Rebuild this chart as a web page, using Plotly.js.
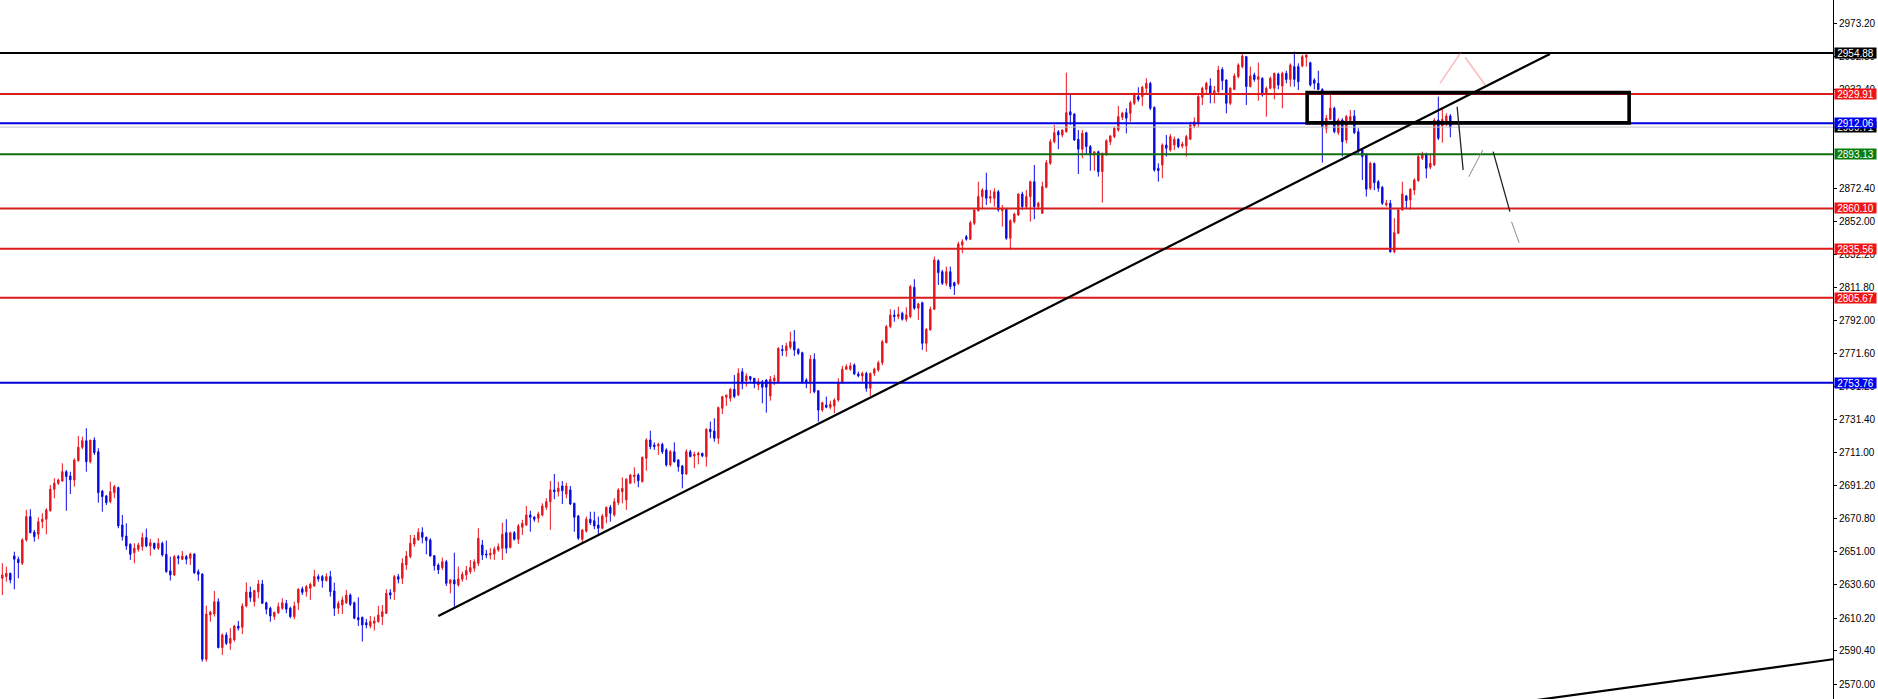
<!DOCTYPE html>
<html>
<head>
<meta charset="utf-8">
<script src="https://cdn.plot.ly/plotly-3.0.1.min.js"></script>
<style>html,body{margin:0;padding:0;background:#fff;}#chart{width:1878px;height:699px;}</style>
</head>
<body>
<div id="chart"></div>
<script>
// ---- candle data (one entry per bar, left to right) ----
const openP = [2634.5,2635.5,2637.5,2648.1,2646.1,2643.6,2657.9,2672.1,2662.7,2661.3,2669.0,2670.5,2675.7,2688.8,2692.4,2693.8,2699.5,2696.9,2694.5,2706.2,2714.4,2718.4,2705.6,2718.8,2711.7,2687.7,2684.7,2681.2,2686.7,2689.8,2667.0,2660.3,2655.2,2650.1,2652.2,2653.8,2659.3,2654.2,2655.8,2652.8,2655.8,2649.1,2639.0,2636.5,2647.7,2646.1,2647.7,2646.7,2649.3,2638.5,2637.1,2585.1,2612.1,2612.7,2620.2,2592.2,2599.9,2594.8,2596.9,2605.4,2604.6,2617.6,2626.1,2620.2,2626.3,2631.0,2619.6,2616.2,2611.1,2613.5,2616.2,2619.2,2616.2,2611.1,2619.6,2628.0,2626.3,2628.4,2629.8,2635.5,2635.5,2633.1,2635.5,2626.8,2616.2,2618.2,2619.6,2624.3,2619.6,2610.5,2610.7,2607.4,2605.4,2607.0,2608.0,2611.1,2613.1,2625.7,2626.3,2635.5,2634.5,2642.6,2647.7,2655.4,2657.9,2662.5,2659.5,2657.9,2648.3,2642.6,2641.0,2644.6,2631.4,2633.5,2630.4,2633.9,2636.5,2638.5,2640.6,2643.6,2654.8,2649.3,2648.7,2649.3,2651.8,2652.8,2662.3,2653.2,2662.3,2658.3,2665.6,2667.0,2673.1,2671.7,2671.1,2673.1,2677.8,2681.2,2688.4,2687.3,2690.8,2685.9,2688.4,2680.2,2672.5,2658.3,2663.3,2670.5,2669.6,2667.0,2665.0,2672.1,2677.8,2673.1,2680.6,2687.3,2682.3,2692.4,2696.5,2697.5,2693.4,2707.7,2718.9,2715.8,2715.2,2716.2,2712.8,2703.6,2711.7,2706.7,2703.0,2698.1,2711.7,2709.1,2709.7,2710.7,2708.7,2725.4,2724.3,2719.9,2738.2,2744.9,2744.3,2749.8,2746.3,2760.5,2755.0,2757.5,2756.5,2752.4,2754.4,2755.4,2745.7,2755.0,2754.4,2774.1,2773.3,2775.4,2778.8,2774.1,2772.1,2755.4,2754.4,2768.1,2748.9,2737.1,2740.2,2738.8,2739.6,2743.2,2753.8,2762.0,2762.0,2764.6,2759.1,2757.9,2759.5,2750.4,2759.5,2761.5,2766.0,2778.2,2788.0,2795.1,2794.1,2796.1,2792.5,2794.1,2812.0,2799.2,2802.6,2777.8,2786.0,2798.6,2828.2,2821.5,2814.4,2821.5,2814.8,2814.4,2837.8,2842.9,2841.3,2851.0,2858.7,2867.3,2871.3,2866.3,2866.3,2870.3,2858.7,2859.6,2841.9,2852.0,2856.1,2868.9,2861.2,2867.3,2876.4,2861.2,2857.1,2873.0,2887.6,2900.8,2906.9,2904.9,2906.9,2919.1,2917.7,2902.3,2896.2,2906.3,2897.8,2892.7,2894.7,2882.5,2893.3,2900.8,2903.9,2907.9,2915.7,2918.5,2918.1,2924.2,2928.3,2928.3,2933.4,2936.4,2921.8,2884.6,2886.6,2898.8,2895.7,2898.8,2902.3,2898.2,2898.2,2902.3,2910.4,2912.4,2927.9,2932.7,2934.8,2929.9,2931.3,2944.9,2938.4,2924.2,2932.7,2940.5,2946.6,2952.7,2934.4,2941.5,2938.8,2939.5,2929.9,2933.4,2933.4,2942.1,2934.8,2942.5,2938.8,2946.6,2946.6,2947.0,2952.3,2949.0,2938.4,2936.4,2932.7,2909.0,2914.4,2921.2,2906.3,2914.0,2901.8,2913.6,2916.5,2906.9,2895.7,2892.7,2872.4,2887.6,2876.4,2873.0,2862.2,2863.2,2833.7,2844.9,2859.2,2867.7,2865.3,2871.3,2877.0,2890.7,2892.7,2885.2,2886.6,2914.0,2910.4,2913.0,2916.5];
const highP = [2643.6,2641.6,2637.9,2650.7,2647.7,2658.9,2676.2,2676.6,2664.0,2671.7,2674.1,2677.2,2691.4,2695.5,2695.3,2704.6,2700.5,2699.5,2707.7,2721.3,2720.9,2726.0,2718.8,2720.5,2713.8,2688.4,2685.3,2693.4,2691.4,2690.4,2673.1,2668.0,2655.8,2655.8,2656.2,2662.3,2664.8,2658.5,2656.2,2658.9,2656.8,2657.5,2647.7,2648.7,2648.7,2651.1,2648.7,2650.1,2649.7,2640.0,2637.5,2617.8,2614.6,2626.8,2622.3,2600.9,2601.5,2604.0,2606.0,2608.5,2619.2,2632.0,2629.4,2627.4,2633.5,2633.5,2620.2,2617.2,2614.1,2619.6,2622.3,2621.3,2617.2,2620.2,2628.4,2629.4,2630.4,2631.8,2639.6,2636.9,2636.5,2637.5,2639.0,2631.8,2620.7,2623.3,2627.4,2625.3,2620.2,2622.9,2611.1,2609.7,2611.5,2611.1,2617.6,2618.2,2627.8,2627.8,2636.5,2637.1,2646.7,2651.1,2660.9,2660.9,2665.0,2665.6,2659.9,2658.9,2648.7,2643.6,2647.1,2645.7,2633.9,2650.1,2641.6,2638.5,2642.0,2645.7,2646.1,2665.0,2657.9,2651.8,2652.8,2653.8,2655.8,2668.4,2670.5,2662.9,2663.3,2667.6,2670.1,2678.6,2675.7,2672.5,2675.1,2680.2,2683.3,2693.8,2698.1,2693.4,2693.8,2692.8,2690.8,2680.6,2673.1,2664.4,2672.1,2675.1,2675.1,2672.1,2673.7,2678.2,2679.2,2683.3,2689.4,2696.1,2695.5,2698.1,2702.2,2698.5,2708.7,2719.9,2724.5,2717.4,2717.2,2717.2,2713.8,2712.8,2717.4,2707.1,2703.6,2713.2,2712.8,2711.7,2711.7,2711.1,2726.0,2730.0,2732.1,2739.2,2745.7,2746.3,2750.4,2758.5,2762.6,2762.6,2759.5,2757.9,2756.5,2756.5,2755.4,2755.9,2757.9,2758.5,2775.4,2776.8,2778.2,2784.9,2785.9,2774.8,2772.7,2756.5,2770.7,2771.7,2749.3,2742.2,2745.3,2742.8,2744.3,2756.5,2764.0,2765.0,2766.0,2765.6,2760.5,2760.5,2760.5,2759.9,2763.0,2767.2,2779.9,2789.0,2798.6,2798.2,2800.2,2797.1,2799.8,2813.4,2816.9,2802.6,2803.2,2787.0,2800.2,2830.7,2829.1,2822.6,2824.6,2824.6,2815.4,2839.8,2841.3,2843.9,2852.6,2859.6,2876.4,2872.4,2881.9,2871.3,2872.4,2871.3,2862.2,2860.2,2853.5,2857.5,2869.3,2870.3,2871.3,2877.0,2886.6,2864.2,2876.4,2889.6,2902.3,2911.0,2907.9,2908.3,2942.9,2930.3,2918.1,2907.9,2907.9,2906.9,2898.8,2894.7,2895.3,2894.1,2902.3,2904.9,2910.0,2922.6,2919.1,2921.2,2925.8,2930.7,2934.0,2934.8,2939.5,2937.4,2922.2,2887.6,2899.8,2904.9,2905.5,2903.9,2902.9,2900.8,2904.9,2913.0,2915.7,2929.3,2934.4,2937.4,2939.5,2934.8,2947.0,2946.2,2938.8,2934.0,2942.5,2948.6,2954.3,2953.1,2946.6,2942.9,2949.0,2940.1,2934.4,2940.5,2942.9,2942.9,2943.5,2944.1,2948.6,2955.7,2948.6,2953.7,2954.3,2949.6,2939.5,2944.1,2933.4,2917.1,2929.3,2922.2,2915.1,2915.1,2917.1,2920.1,2920.1,2909.0,2896.8,2893.7,2888.6,2888.0,2877.4,2873.8,2865.3,2865.3,2854.1,2860.2,2876.4,2868.3,2872.4,2878.5,2893.7,2894.7,2894.1,2892.7,2915.1,2928.3,2921.2,2918.1,2917.7];
const lowP = [2624.3,2632.4,2631.4,2627.8,2634.5,2642.6,2656.8,2661.9,2656.8,2658.3,2665.0,2661.3,2675.1,2683.3,2691.4,2693.4,2675.7,2685.9,2690.4,2705.6,2713.2,2699.5,2704.6,2709.7,2680.6,2675.1,2679.2,2680.2,2683.3,2665.0,2657.5,2651.8,2645.7,2643.6,2650.7,2651.3,2653.4,2648.3,2651.8,2651.8,2647.7,2637.9,2633.1,2635.9,2643.0,2645.7,2643.0,2642.6,2637.1,2632.9,2583.6,2583.6,2608.0,2611.1,2591.8,2587.7,2593.8,2590.8,2595.9,2602.6,2600.5,2616.8,2620.2,2617.2,2622.3,2618.8,2612.5,2608.0,2609.1,2612.7,2615.2,2613.1,2610.1,2609.5,2615.2,2624.3,2623.3,2621.3,2629.4,2632.4,2628.8,2632.4,2623.3,2611.5,2612.7,2612.7,2618.8,2617.6,2609.5,2605.4,2595.9,2604.0,2604.0,2602.6,2607.4,2606.0,2612.7,2621.7,2621.3,2631.4,2631.0,2639.6,2646.7,2653.8,2657.5,2655.8,2649.1,2647.7,2639.2,2637.1,2639.6,2629.8,2625.3,2617.2,2629.4,2632.4,2633.5,2637.1,2638.5,2642.0,2645.7,2646.7,2646.1,2645.7,2650.7,2645.7,2649.7,2652.8,2657.5,2655.4,2660.9,2666.4,2662.9,2669.0,2668.4,2672.1,2676.2,2664.0,2682.7,2684.3,2679.8,2683.3,2679.2,2662.9,2657.9,2656.2,2662.3,2667.0,2664.4,2660.9,2664.4,2668.0,2669.0,2672.1,2679.2,2680.2,2676.2,2692.4,2692.4,2690.0,2693.0,2700.1,2713.2,2712.8,2709.7,2710.3,2702.6,2702.6,2705.0,2699.5,2689.4,2697.5,2708.3,2701.6,2704.0,2708.3,2702.6,2719.9,2717.8,2716.4,2734.7,2739.6,2742.2,2744.3,2745.7,2749.8,2751.4,2754.4,2750.4,2749.3,2741.2,2735.5,2742.8,2752.4,2753.4,2770.1,2769.7,2774.1,2770.1,2770.7,2753.4,2750.4,2747.3,2747.3,2730.0,2736.1,2738.2,2737.6,2735.1,2742.2,2753.0,2761.5,2761.1,2758.5,2757.1,2754.4,2748.3,2745.7,2757.9,2760.5,2764.5,2777.8,2787.0,2791.0,2792.5,2791.7,2791.0,2793.1,2798.2,2792.1,2773.8,2772.7,2785.6,2798.2,2813.4,2813.4,2812.8,2810.8,2807.3,2813.4,2832.7,2840.4,2840.9,2850.0,2858.1,2859.6,2862.2,2863.2,2861.2,2858.1,2849.0,2840.9,2834.8,2851.0,2855.5,2859.2,2860.2,2852.0,2853.5,2859.2,2856.7,2872.4,2886.6,2899.8,2896.2,2903.5,2906.3,2911.0,2901.4,2881.1,2890.7,2892.7,2883.1,2883.1,2879.5,2863.6,2892.1,2898.8,2902.9,2906.9,2914.0,2905.9,2913.0,2923.2,2925.2,2922.6,2930.3,2920.1,2882.5,2876.4,2878.5,2891.7,2894.7,2895.7,2896.8,2896.8,2891.7,2901.8,2909.0,2909.6,2923.2,2930.3,2924.2,2924.2,2929.9,2932.3,2918.1,2923.2,2932.3,2939.5,2945.6,2923.2,2934.0,2937.4,2925.8,2928.3,2916.1,2932.7,2926.6,2932.7,2921.2,2936.4,2934.4,2934.4,2932.3,2946.2,2946.6,2934.4,2932.7,2932.3,2888.0,2905.9,2914.0,2905.9,2904.9,2891.7,2899.8,2913.0,2905.5,2893.7,2877.4,2867.3,2871.3,2871.3,2870.3,2862.2,2861.2,2833.1,2832.7,2844.5,2858.7,2860.2,2859.2,2868.3,2876.4,2889.6,2878.5,2884.0,2886.0,2901.8,2900.2,2910.4,2903.5];
const closeP = [2636.5,2637.5,2633.5,2646.1,2644.0,2657.9,2672.1,2662.3,2659.9,2669.0,2670.5,2676.2,2688.8,2692.4,2694.5,2699.5,2696.5,2694.5,2706.6,2714.4,2718.4,2705.6,2718.8,2711.1,2686.7,2684.3,2680.6,2687.3,2690.4,2666.4,2659.9,2654.2,2649.1,2652.8,2654.8,2659.3,2654.2,2656.2,2652.8,2655.8,2648.7,2638.5,2636.5,2647.7,2646.7,2648.1,2646.1,2649.3,2637.9,2636.9,2585.1,2612.7,2613.9,2620.2,2592.2,2599.9,2594.8,2597.9,2605.4,2604.0,2617.6,2626.1,2622.7,2627.0,2631.0,2619.2,2615.6,2611.5,2613.7,2617.2,2619.6,2615.6,2611.1,2617.6,2627.8,2625.9,2629.4,2630.8,2635.5,2634.1,2633.1,2635.5,2626.3,2616.2,2619.2,2621.3,2624.3,2618.6,2610.1,2609.1,2606.0,2606.0,2608.0,2608.5,2612.1,2614.1,2625.3,2624.3,2635.5,2633.9,2643.6,2648.1,2655.8,2658.9,2662.5,2659.5,2657.5,2648.1,2642.2,2639.6,2644.6,2631.4,2633.5,2631.0,2634.1,2636.9,2639.2,2641.0,2644.6,2658.9,2648.7,2648.7,2649.7,2652.2,2653.8,2661.3,2652.8,2662.3,2658.3,2666.4,2668.0,2673.1,2671.7,2670.5,2673.7,2678.6,2681.2,2688.4,2687.3,2689.4,2687.9,2690.8,2679.8,2671.7,2658.9,2664.0,2670.5,2668.4,2666.4,2665.0,2672.5,2677.8,2674.1,2681.2,2688.4,2689.4,2694.9,2697.5,2697.5,2694.0,2708.3,2718.9,2714.8,2714.8,2716.2,2711.7,2703.6,2711.7,2705.6,2702.6,2698.1,2711.7,2708.7,2710.1,2710.7,2709.1,2725.4,2723.9,2719.9,2738.6,2745.3,2746.3,2749.8,2745.3,2759.5,2754.4,2757.9,2755.9,2753.4,2754.4,2751.0,2751.0,2755.9,2756.5,2774.8,2773.3,2776.2,2778.8,2773.7,2771.7,2754.4,2754.4,2768.1,2748.3,2737.1,2741.6,2738.8,2740.6,2743.2,2753.8,2762.0,2763.6,2764.0,2759.1,2757.9,2759.5,2750.4,2759.5,2762.0,2766.0,2778.8,2788.0,2795.1,2794.1,2795.5,2792.5,2795.1,2812.4,2799.2,2801.8,2777.8,2786.4,2798.6,2828.7,2820.9,2814.4,2821.5,2812.4,2812.8,2838.4,2839.8,2841.3,2851.4,2859.2,2867.3,2871.3,2866.3,2867.3,2870.3,2859.2,2859.6,2841.9,2852.6,2856.7,2868.9,2861.2,2867.3,2876.4,2861.2,2863.2,2873.4,2888.0,2900.8,2906.3,2904.9,2907.9,2918.5,2917.1,2901.8,2896.2,2905.9,2897.8,2892.7,2894.7,2882.5,2893.7,2901.4,2904.3,2909.0,2916.1,2918.1,2915.1,2924.6,2929.3,2926.6,2934.0,2936.4,2921.2,2883.5,2883.1,2898.8,2896.8,2903.9,2902.3,2897.8,2899.4,2903.9,2911.0,2913.0,2928.3,2933.4,2936.4,2930.3,2931.9,2944.5,2938.0,2924.2,2933.4,2940.9,2947.6,2953.1,2934.4,2940.9,2938.8,2940.5,2929.3,2933.4,2939.5,2942.5,2935.4,2942.5,2938.8,2947.6,2938.8,2937.4,2952.7,2953.7,2935.4,2936.4,2932.7,2909.6,2915.1,2921.2,2906.9,2914.0,2900.8,2916.1,2916.1,2906.3,2895.7,2891.7,2871.8,2887.6,2875.8,2872.4,2863.2,2863.2,2833.7,2845.3,2859.2,2868.9,2864.8,2871.8,2877.4,2891.7,2892.7,2884.6,2887.6,2914.0,2902.9,2914.4,2916.5,2909.6];

// ---- horizontal levels and their labels ----
const levelValues = [2954.88, 2929.91, 2909.71, 2912.06, 2893.13, 2860.10, 2835.56, 2805.67, 2753.76];
const levelLineColors = ['#000000', '#dc1c1c', '#c4c4c4', '#0000e0', '#116d11', '#d41f1f', '#dc1c1c', '#dc1c1c', '#0000d8'];
const levelLabelColors = ['#000000', '#f01414', '#000000', '#0000f0', '#0b7d0b', '#f01414', '#f01414', '#f01414', '#0000f0'];
const levelLineWidths = [2, 2, 1, 2, 2, 2, 2, 2, 2];

// ---- price axis ticks (those fully covered by level labels are left out) ----
const tickValues = [2973.20, 2952.80, 2932.40, 2872.40, 2852.00, 2832.20, 2811.80, 2792.00, 2771.60, 2751.20, 2731.40, 2711.00, 2691.20, 2670.80, 2651.00, 2630.60, 2610.20, 2590.40, 2570.00];
const tickLabels = tickValues.map(v => v.toFixed(2));

// ---- drawn objects (bar index, price) ----
const trendLines = [[109.0, 2611.5, 386.9, 2954.3], [380.0, 2559.0, 457.7, 2585.1]];
const zoneBox = [326.2, 2912.3, 406.7, 2930.7];
const pinkLines = [[359.4, 2936.4, 364.6, 2955.1], [365.7, 2952.3, 370.7, 2935.4]];
const darkPath = [[363.7, 2922.1, 365.2, 2883.5], [372.7, 2894.7, 376.9, 2858.1]];
const greyPath = [[366.6, 2879.4, 370.1, 2895.7], [377.3, 2852.0, 379.2, 2839.2]];

const xIdx = openP.map((_, i) => i);

const trace = {
  type: 'candlestick',
  x: xIdx, open: openP, high: highP, low: lowP, close: closeP,
  increasing: {line: {color: '#e8141e', width: 1}, fillcolor: '#e8141e'},
  decreasing: {line: {color: '#0a0ae6', width: 1}, fillcolor: '#0a0ae6'},
  whiskerwidth: 0,
  hoverinfo: 'skip'
};

const shapes = [];
levelValues.forEach((v, k) => {
  shapes.push({type: 'line', xref: 'paper', yref: 'y', x0: 0, x1: 1, y0: v, y1: v,
    line: {color: levelLineColors[k], width: levelLineWidths[k]}, layer: 'above'});
});
trendLines.forEach(s => shapes.push({type: 'line', xref: 'x', yref: 'y', x0: s[0], y0: s[1], x1: s[2], y1: s[3], line: {color: '#000', width: 2.2}, layer: 'above'}));
shapes.push({type: 'rect', xref: 'x', yref: 'y', x0: zoneBox[0], y0: zoneBox[1], x1: zoneBox[2], y1: zoneBox[3], line: {color: '#000', width: 3.6}, fillcolor: 'rgba(0,0,0,0)', layer: 'above'});
pinkLines.forEach(s => shapes.push({type: 'line', xref: 'x', yref: 'y', x0: s[0], y0: s[1], x1: s[2], y1: s[3], line: {color: 'rgba(240,90,90,0.4)', width: 1.6}, layer: 'above'}));
darkPath.forEach(s => shapes.push({type: 'line', xref: 'x', yref: 'y', x0: s[0], y0: s[1], x1: s[2], y1: s[3], line: {color: '#222', width: 1.3}, layer: 'above'}));
greyPath.forEach(s => shapes.push({type: 'line', xref: 'x', yref: 'y', x0: s[0], y0: s[1], x1: s[2], y1: s[3], line: {color: '#8a8a8a', width: 1}, layer: 'above'}));

const annotations = levelValues.map((v, k) => ({
  xref: 'paper', yref: 'y', x: 1, y: v, xanchor: 'left', yanchor: 'middle', xshift: 1,
  text: v.toFixed(2), showarrow: false, bgcolor: levelLabelColors[k], borderpad: 0,
  width: 41, height: 10, align: 'center', valign: 'middle',
  font: {family: 'Liberation Sans, Arial, sans-serif', size: 10, color: '#ffffff'}
}));

const layout = {
  width: 1878, height: 699,
  margin: {l: 0, r: 45, t: 0, b: 0, pad: 0},
  paper_bgcolor: '#ffffff', plot_bgcolor: '#ffffff',
  showlegend: false, hovermode: false, dragmode: false,
  boxgap: 0.5,
  xaxis: {range: [-0.5825, 457.6675], showgrid: false, zeroline: false, showticklabels: false,
          ticks: '', showline: false, rangeslider: {visible: false}, fixedrange: true},
  yaxis: {side: 'right', range: [2560.85, 2987.23], showgrid: false, zeroline: false,
          showline: true, linecolor: '#000', linewidth: 1, ticks: 'outside', ticklen: 3,
          tickcolor: '#000', tickvals: tickValues, ticktext: tickLabels,
          tickfont: {family: 'Liberation Sans, Arial, sans-serif', size: 10, color: '#000'},
          fixedrange: true},
  shapes: shapes,
  annotations: annotations
};

Plotly.newPlot('chart', [trace], layout, {displayModeBar: false, staticPlot: true});
</script>
</body>
</html>
